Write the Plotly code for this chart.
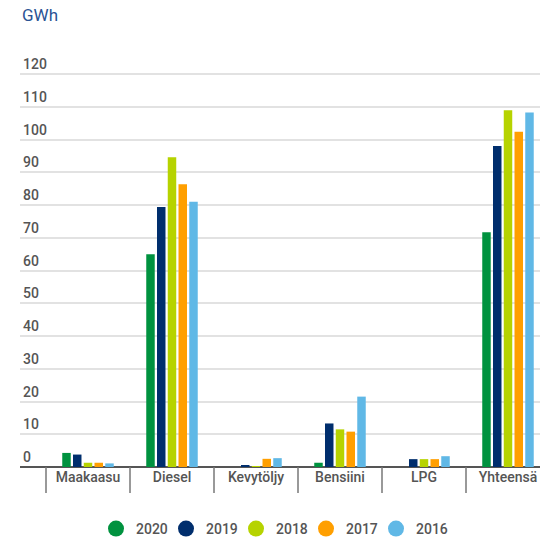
import plotly.graph_objects as go

categories = ["Maakaasu", "Diesel", "Kevytöljy", "Bensiini", "LPG", "Yhteensä"]
years = ["2020", "2019", "2018", "2017", "2016"]
v2020 = [4.3, 65.0, 0.0, 1.3, 0.0, 71.7]
v2019 = [3.8, 79.4, 0.4, 13.3, 2.4, 98.1]
v2018 = [1.3, 94.6, 0.2, 11.5, 2.4, 109.0]
v2017 = [1.3, 86.4, 2.5, 10.8, 2.4, 102.4]
v2016 = [1.1, 81.0, 2.7, 21.5, 3.3, 108.3]
series = [v2020, v2019, v2018, v2017, v2016]
colors = ["#00923f", "#002e6d", "#b6d300", "#ff9f00", "#60b8e6"]
yticks = [0, 10, 20, 30, 40, 50, 60, 70, 80, 90, 100, 110, 120]

FONT = "Roboto"
PLOT_H = 419
fig = go.Figure()
xs = list(range(len(categories)))
for name, vals, c in zip(years, series, colors):
    fig.add_trace(go.Bar(x=xs, y=vals, name=name, marker=dict(color=c, line=dict(width=0)),
                         showlegend=False))
for name, c in zip(years, colors):
    fig.add_trace(go.Scatter(x=[None], y=[None], mode="markers", name=name,
                             marker=dict(color=c, size=17, symbol="circle")))
# spacer entry so the last legend label is not clipped
fig.add_trace(go.Scatter(x=[None], y=[None], mode="markers", name="\u00a0",
                         marker=dict(color="rgba(0,0,0,0)", size=1), hoverinfo="skip"))

shapes = []
for i in range(len(categories)):
    shapes.append(dict(type="line", xref="x", yref="paper", x0=i - 0.5, x1=i - 0.5,
                       y0=0, y1=-26 / PLOT_H, line=dict(color="#777", width=1.5)))

fig.update_layout(
    width=540, height=540,
    margin=dict(l=20, r=0, t=48, b=73, autoexpand=False),
    paper_bgcolor="white", plot_bgcolor="white",
    font=dict(family=FONT, size=14, color="#555", weight=500),
    barmode="group", bargap=0.36, bargroupgap=0.21,
    xaxis=dict(range=[-0.8095, 5.381], tickmode="array", tickvals=xs, ticktext=categories,
               showgrid=False, zeroline=False, showline=False, ticks="",
               tickfont=dict(size=14, color="#555")),
    yaxis=dict(range=[0, 128], tickmode="array", tickvals=yticks,
               ticktext=[str(t) for t in yticks],
               ticklabelposition="inside top", showgrid=True, gridcolor="#e2e2e2",
               gridwidth=1.5, zeroline=True, zerolinecolor="#555", zerolinewidth=2,
               showline=False, ticks="", tickfont=dict(size=14, color="#555")),
    legend=dict(orientation="h", x=(96 - 20) / 520, xanchor="left", y=-62 / PLOT_H,
                yanchor="middle", font=dict(size=14, color="#555"), itemwidth=30,
                entrywidth=25, entrywidthmode="pixels", bgcolor="rgba(0,0,0,0)"),
    shapes=shapes,
    annotations=[dict(text="GWh", xref="paper", yref="paper", x=0.0, y=1.0,
                      xanchor="left", yanchor="middle", yshift=48 - 15, showarrow=False,
                      font=dict(size=17, color="#2a5394", weight=400))],
)
fig.write_html("out.html")
